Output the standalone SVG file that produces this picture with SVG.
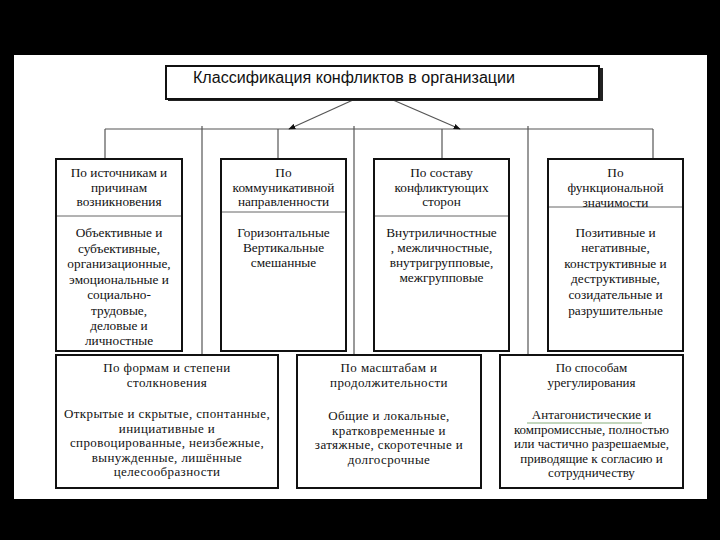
<svg xmlns="http://www.w3.org/2000/svg" width="720" height="540" viewBox="0 0 720 540">
<defs>
<marker id="arr" viewBox="0 0 10 10" refX="9" refY="5" markerWidth="7" markerHeight="7" orient="auto" markerUnits="userSpaceOnUse">
<path d="M0,1 L10,5 L0,9 z" fill="#111"/>
</marker>
</defs>
<style>
.box{fill:#fff;stroke:#111;stroke-width:2}
.sep{stroke:#666;stroke-width:1}
.con{stroke:#555;stroke-width:1.2;fill:none}
.t{font-family:"Liberation Serif","Times New Roman",serif;font-size:13.3px;fill:#111;text-anchor:middle}
.b{font-size:13px}
.ls{letter-spacing:0.4px}
.title{font-family:"Liberation Sans",Arial,sans-serif;font-size:16px;fill:#111}
</style>
<rect x="0" y="0" width="720" height="540" fill="#000"/>
<rect x="14" y="55" width="693" height="444" fill="#fff"/>

<g id="connectors">
<line class="con" x1="105" y1="129" x2="653" y2="129"/>
<line class="con" x1="105" y1="129" x2="105" y2="159"/>
<line class="con" x1="278" y1="129" x2="278" y2="159"/>
<line class="con" x1="442" y1="129" x2="442" y2="159"/>
<line class="con" x1="653" y1="129" x2="653" y2="159"/>
<line class="con" x1="202" y1="126" x2="202" y2="355"/>
<line class="con" x1="354" y1="126" x2="354" y2="355"/>
<line class="con" x1="528" y1="126" x2="528" y2="355"/>
<line class="con" x1="353" y1="100" x2="289" y2="129" marker-end="url(#arr)" stroke="#222"/>
<line class="con" x1="393" y1="100" x2="460" y2="129" marker-end="url(#arr)" stroke="#222"/>
</g>

<g id="title">
<rect x="168" y="68" width="435" height="33" fill="#222"/>
<rect class="box" x="166" y="66" width="433" height="33"/>
<text class="title" x="193" y="83" textLength="322" lengthAdjust="spacingAndGlyphs">Классификация конфликтов в организации</text>
</g>

<g id="box1">
<rect class="box" x="56" y="159" width="126" height="192"/>
<line class="sep" x1="57" y1="216" x2="181" y2="216"/>
<text class="t" x="119" y="177">По источникам и</text>
<text class="t" x="119" y="192">причинам</text>
<text class="t" x="119" y="206">возникновения</text>
<text class="t" x="119" y="237">Объективные и</text>
<text class="t" x="119" y="253">субъективные,</text>
<text class="t" x="119" y="268">организационные,</text>
<text class="t" x="119" y="284">эмоциональные и</text>
<text class="t" x="119" y="299">социально-</text>
<text class="t" x="119" y="315">трудовые,</text>
<text class="t" x="119" y="330">деловые и</text>
<text class="t" x="119" y="345">личностные</text>
</g>

<g id="box2">
<rect class="box" x="221" y="159" width="125" height="192"/>
<line class="sep" x1="222" y1="212" x2="345" y2="212"/>
<text class="t" x="283.5" y="177">По</text>
<text class="t" x="283.5" y="192">коммуникативной</text>
<text class="t" x="283.5" y="206">направленности</text>
<text class="t" x="283.5" y="237">Горизонтальные</text>
<text class="t" x="283.5" y="252">Вертикальные</text>
<text class="t" x="283.5" y="267">смешанные</text>
</g>

<g id="box3">
<rect class="box" x="374" y="159" width="135" height="192"/>
<line class="sep" x1="375" y1="216" x2="508" y2="216"/>
<text class="t" x="441.5" y="177">По составу</text>
<text class="t" x="441.5" y="192">конфликтующих</text>
<text class="t" x="441.5" y="206">сторон</text>
<text class="t" x="441.5" y="237">Внутриличностные</text>
<text class="t" x="441.5" y="252">, межличностные,</text>
<text class="t" x="441.5" y="267">внутригрупповые,</text>
<text class="t" x="441.5" y="282">межгрупповые</text>
</g>

<g id="box4">
<rect class="box" x="548" y="159" width="135" height="192"/>
<line class="sep" x1="549" y1="207" x2="682" y2="207"/>
<text class="t" x="615.5" y="177">По</text>
<text class="t" x="615.5" y="192">функциональной</text>
<text class="t" x="615.5" y="207">значимости</text>
<text class="t" x="615.5" y="237">Позитивные и</text>
<text class="t" x="615.5" y="252">негативные,</text>
<text class="t" x="615.5" y="268">конструктивные и</text>
<text class="t" x="615.5" y="283">деструктивные,</text>
<text class="t" x="615.5" y="299">созидательные и</text>
<text class="t" x="615.5" y="315">разрушительные</text>
</g>

<g id="box5">
<rect class="box" x="56" y="355" width="222" height="133"/>
<text class="t b ls" x="167" y="372">По формам и степени</text>
<text class="t b ls" x="167" y="387">столкновения</text>
<text class="t b ls" x="167" y="418">Открытые и скрытые, спонтанные,</text>
<text class="t b ls" x="167" y="432.5">инициативные и</text>
<text class="t b ls" x="167" y="447">спровоцированные, неизбежные,</text>
<text class="t b ls" x="167" y="461.5">вынужденные, лишённые</text>
<text class="t b ls" x="167" y="476">целесообразности</text>
</g>

<g id="box6">
<rect class="box" x="297" y="355" width="184" height="133"/>
<text class="t b ls" x="389" y="372">По масштабам и</text>
<text class="t b ls" x="389" y="387">продолжительности</text>
<text class="t b ls" x="389" y="420">Общие и локальные,</text>
<text class="t b ls" x="389" y="434.5">кратковременные и</text>
<text class="t b ls" x="389" y="449">затяжные, скоротечные и</text>
<text class="t b ls" x="389" y="463.5">долгосрочные</text>
</g>

<g id="box7">
<rect class="box" x="500" y="355" width="183" height="133"/>
<text class="t b" x="591.5" y="372">По способам</text>
<text class="t b" x="591.5" y="387">урегулирования</text>
<line x1="527" y1="423" x2="642" y2="423" stroke="#6a9a5a" stroke-width="0.8"/>
<text class="t b" x="591.5" y="419">Антагонистические и</text>
<text class="t b" x="591.5" y="433.5">компромиссные, полностью</text>
<text class="t b" x="591.5" y="448">или частично разрешаемые,</text>
<text class="t b" x="591.5" y="462.5">приводящие к согласию и</text>
<text class="t b" x="591.5" y="477">сотрудничеству</text>
</g>
</svg>
